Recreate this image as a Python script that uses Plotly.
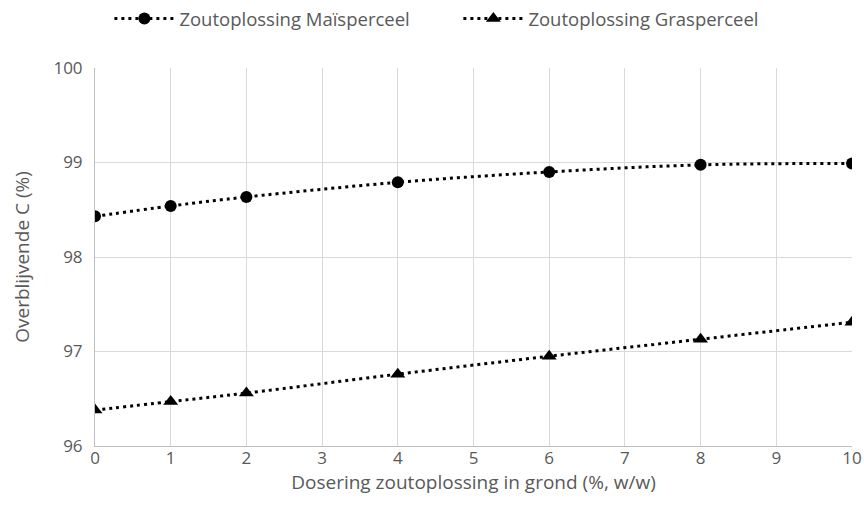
import plotly.graph_objects as go

x_vals = [0, 1, 2, 4, 6, 8, 10]
mais = [98.43, 98.54, 98.635, 98.79, 98.90, 98.975, 98.99]
gras = [96.38, 96.47, 96.56, 96.76, 96.95, 97.13, 97.31]
series_names = ["Zoutoplossing Maïsperceel", "Zoutoplossing Grasperceel"]
x_ticks = list(range(0, 11))
y_ticks = [96, 97, 98, 99, 100]

font_family = "Open Sans, sans-serif"
text_color = "#595959"

fig = go.Figure()
fig.add_trace(go.Scatter(
    x=x_vals, y=mais, name=series_names[0], mode="lines+markers",
    line=dict(color="black", dash="3px,4px", width=3, shape="spline"),
    marker=dict(symbol="circle", size=12, color="black"),
))
fig.add_trace(go.Scatter(
    x=x_vals, y=gras, name=series_names[1], mode="lines+markers",
    line=dict(color="black", dash="3px,4px", width=3, shape="spline"),
    marker=dict(symbol="triangle-up", size=13, color="black"),
))

fig.update_layout(
    width=864, height=521,
    margin=dict(l=95, r=12, t=68, b=75, autoexpand=False),
    paper_bgcolor="white", plot_bgcolor="white",
    font=dict(family=font_family, size=17, color=text_color),
    legend=dict(orientation="h", x=0.019, xanchor="left", y=1.0, yanchor="top",
                yref="container", font=dict(size=18.5, color=text_color),
                entrywidth=274, entrywidthmode="pixels", itemwidth=60, tracegroupgap=0),
    showlegend=True,
)
fig.update_xaxes(
    range=[0, 10], tickvals=x_ticks, showgrid=True, gridcolor="#d9d9d9", gridwidth=1,
    showline=True, linecolor="#bfbfbf", linewidth=1, zeroline=False,
    ticks="", ticklen=0, tickfont=dict(size=17, color=text_color), automargin=False,
    ticklabelstandoff=-3,
    title=dict(text="Dosering zoutoplossing in grond (%, w/w)", font=dict(size=19, color=text_color), standoff=0),
)
fig.update_yaxes(
    range=[96, 100], tickvals=y_ticks, showgrid=True, gridcolor="#d9d9d9", gridwidth=1,
    showline=True, linecolor="#bfbfbf", linewidth=1, zeroline=False,
    ticks="", tickfont=dict(size=17, color=text_color), automargin=False,
    ticklabelstandoff=8,
    title=dict(text="Overblijvende C (%)", font=dict(size=19, color=text_color), standoff=18),
)
fig.write_html("out.html")
